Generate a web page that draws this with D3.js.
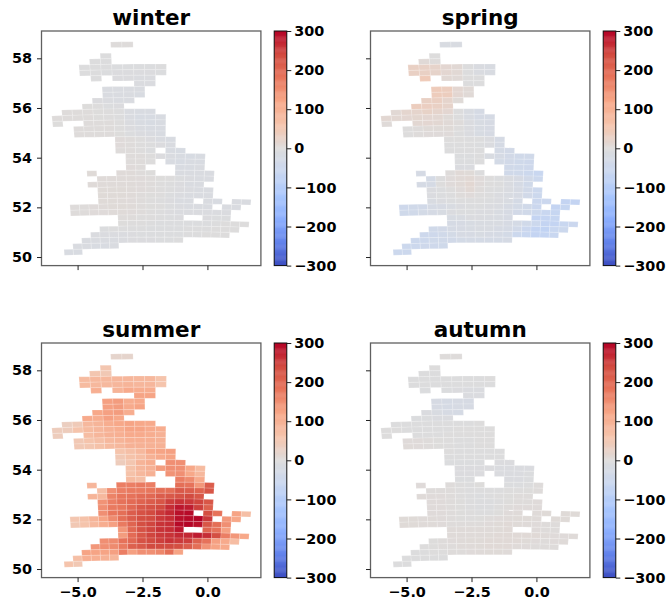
<!DOCTYPE html>
<html><head><meta charset="utf-8">
<script src="https://cdnjs.cloudflare.com/ajax/libs/d3/7.8.5/d3.min.js"></script>
<style>
html,body{margin:0;padding:0;background:#fff}
svg{display:block}
text{font-family:"DejaVu Sans",sans-serif;font-weight:700;fill:#000}
</style></head><body><svg id="c" width="670" height="601"></svg>
<script>
// Grid rows from north to south: runs of 25 km cell columns [first,last]
const rowRuns = [
[[12,13]],[],[[11,11]],[[10,11]],[[9,16]],[[9,16]],[[10,10],[12,15]],[[14,15]],[[11,14]],[[11,14]],
[[10,13]],[[9,12]],[[7,15]],[[6,16]],[[6,6],[9,16]],[[8,16]],[[8,16]],[[12,17]],[[12,17]],[[12,15],[17,18]],
[[13,20]],[[13,15],[17,20]],[[13,14],[18,20]],[[9,9],[12,15],[18,21]],[[10,21]],[[9,20]],[[10,21]],[[10,21]],
[[10,19],[21,22],[24,25]],[[7,21],[23,24]],[[7,23]],[[12,18],[21,23]],[[12,25]],[[10,24]],[[9,23]],[[8,18]],[[7,11]],[[6,7]]
];
const winter = [
[2,2],[],[-3],[-3,-3],[-2,-2,-4,-5,-6,-6,-6,-4],[-2,-2,-5,-7,-7,-7,-7,-5],[-3,-7,-7,-8,-8],[-9,-9],[-11,-11,-13,-13],[-11,-12,-13,-14],
[-7,-9,-11,-11],[1,-1,-5,-7],[2,2,3,1,0,-3,-11,-15,-15],[2,2,3,2,1,0,-3,-13,-17,-17,-15],[1,3,3,2,0,-9,-15,-17,-15],[3,3,3,2,0,-7,-13,-14,-14],[3,3,3,2,1,-5,-9,-12,-14],[4,3,-1,-7,-11,-15],[4,3,0,-3,-7,-13],[3,2,-1,-5,-15,-17],
[3,2,-1,-7,-11,-15,-17,-15],[3,2,-1,-14,-17,-16,-14],[4,3,-14,-15,-13],[6,5,5,3,1,-11,-13,-13,-11],[5,5,5,5,4,3,1,-1,-5,-9,-11,-11],[5,5,5,5,5,4,2,0,-3,-7,-11,-11],[6,6,6,5,4,2,0,-3,-7,-9,-11,-11],[6,6,6,5,3,1,-1,-5,-9,-11,-11,-13],
[6,6,5,4,2,0,-3,-7,-11,-13,-13,-15,-13,-13],[3,3,4,5,6,6,5,3,1,-1,-5,-9,-13,-13,-13,-13,-11],[3,3,4,4,5,5,4,3,0,-3,-7,-9,-9,-9,-9,-9,-9],[2,2,0,-1,-3,-5,-7,-7,-5,-5],[1,0,-1,-3,-5,-5,-5,-5,-5,-5,-3,-1,-1,0],[-5,-3,-2,-3,-4,-5,-5,-5,-5,-4,-3,-2,-1,0,0],[-9,-9,-9,-9,-7,-6,-5,-5,-5,-5,-3,-3,-1,0,0],[-13,-13,-13,-12,-9,-7,-7,-7,-6,-5,-4],[-13,-13,-14,-14,-13],[-15,-15]
];
const spring = [
[-14,-14],[],[0],[8,3],[30,28,22,14,10,-4,-12,-15],[30,30,22,14,10,-4,-12,-15],[45,10,8,0,-2],[-2,-4],[42,38,14,8],[40,38,14,8],
[30,32,20,6],[38,34,30,22],[10,18,20,26,20,14,-4,-14,-24],[12,12,14,16,14,12,6,-4,-14,-24,-24],[5,12,14,12,8,2,-8,-18,-22],[0,2,6,6,6,0,-8,-18,-22],[0,2,4,4,4,-2,-8,-18,-22],[0,0,-2,-4,-10,-24],[-2,-2,-3,-5,-10,-24],[-2,-2,-4,-4,-26,-34],
[-6,-5,-4,-14,-24,-34,-40,-40],[-6,-6,-4,-30,-36,-42,-44],[-8,-8,-38,-42,-46],[-25,2,8,6,-2,-38,-42,-50,-60],[-26,-4,4,8,10,4,0,-6,-12,-20,-35,-50],[-25,-24,0,4,8,12,4,0,-4,-12,-24,-40],[-10,-6,0,4,10,2,-2,-6,-12,-20,-35,-50],[-10,-6,-2,2,4,0,-4,-8,-14,-22,-35,-50],
[-15,-10,-5,-2,-2,-4,-6,-10,-16,-28,-55,-55,-70,-70],[-45,-40,-35,-25,-20,-15,-8,-6,-6,-8,-12,-20,-30,-38,-55,-70,-65],[-42,-38,-30,-25,-18,-10,-6,-6,-8,-10,-14,-22,-32,-40,-52,-60,-65],[-18,-14,-10,-10,-12,-14,-20,-70,-68,-65],[-25,-22,-18,-15,-14,-16,-20,-28,-40,-52,-70,-70,-60,-55],[-38,-32,-25,-22,-18,-16,-16,-20,-25,-35,-55,-70,-75,-60,-50],[-48,-45,-38,-30,-22,-20,-18,-20,-24,-30,-50,-60,-70,-68,-60],[-50,-48,-42,-40,-35,-30,-26,-26,-26,-26,-24],[-52,-50,-46,-44,-42],[-52,-52]
];
const summer = [
[20,20],[],[55],[55,50],[80,85,85,90,90,85,85,60],[80,85,85,90,95,90,90,60],[105,95,115,110,110],[125,125],[130,135,110,115],[130,135,115,125],
[120,130,135,110],[115,110,130,120],[35,45,85,95,110,120,125,120,115],[40,40,60,80,90,100,110,125,125,115,110],[40,75,90,100,105,115,115,110,100],[50,60,70,85,95,105,105,105,100],[50,55,65,80,85,100,100,100,100],[60,70,85,120,125,130],[50,65,75,100,115,125],[40,55,95,110,150,150],
[65,90,100,135,150,150,120,80],[65,85,100,145,150,120,85],[80,70,170,155,115],[90,170,170,175,170,190,185,140,215],[70,150,170,175,175,180,190,190,220,215,205,225],[95,85,165,180,185,195,200,215,220,230,240,225],[145,170,185,195,205,215,225,250,260,255,245,225],[150,175,180,200,220,230,240,265,285,280,250,210],
[150,180,190,215,230,240,255,270,290,295,235,185,125,70],[55,65,95,125,155,190,215,235,240,255,265,290,295,300,255,140,120],[50,60,85,110,130,175,205,235,245,260,265,295,300,290,225,190,150],[140,200,230,245,260,265,285,205,185,130],[135,195,225,245,255,260,270,270,280,265,235,170,140,120],[150,155,185,200,230,240,250,260,255,250,210,185,130,115,75],[140,150,155,175,210,220,240,240,240,235,215,190,145,125,115],[125,125,125,130,170,130,150,150,160,190,125],[70,105,105,100,90],[60,50]
];
const autumn = [
[3,3],[],[0],[-2,-2],[-4,-4,-4,-3,-2,-2,-2,-1],[-4,-4,-4,-4,-4,-4,-3,-2],[-5,-6,-7,-9,-8],[-10,-8],[-22,-24,-20,-20],[-22,-24,-22,-20],
[-10,-14,-20,-24],[-5,-6,-8,-10],[-2,-2,-4,-4,-4,-4,-3,-2,-1],[-1,-1,-2,-3,-3,-3,-2,-1,0,0,0],[0,-3,-2,-2,-1,0,0,0,0],[4,4,3,1,0,-2,-2,-1,-1],[5,4,3,1,0,-2,-2,-1,-1],[-1,-2,-3,-3,-3,-3],[-3,-3,-4,-4,-4,-4],[-6,-6,-6,-6,-7,-7],
[-7,-7,-7,-7,-8,-8,-8,-8],[-7,-7,-7,-8,-8,-8,-6],[-6,-6,-8,-8,-6],[4,2,0,-2,1,-6,-6,-2,3],[3,3,2,0,-4,-4,-4,-2,0,0,1,3],[5,4,4,3,0,-4,-5,-4,-1,1,2,3],[4,4,3,1,-2,-6,-6,-2,1,2,3,4],[4,4,3,1,-2,-5,-5,-1,2,4,4,4],
[4,4,3,1,-1,-3,-3,1,4,5,5,6,6,6],[6,6,5,5,4,2,1,0,1,2,4,5,6,6,5,6,6],[6,6,5,5,4,3,2,2,3,4,6,7,6,5,4,3,3],[5,5,5,5,5,6,7,4,3,3],[5,5,5,5,6,7,7,8,8,7,5,4,4,5],[1,2,4,5,6,6,7,7,8,7,6,4,3,4,5],[0,1,2,3,5,5,6,7,7,7,5,4,3,3,3],[-2,-2,0,0,2,3,4,5,6,6,5],[-2,-2,-2,-2,-2],[-2,-2]
];
const seasonNames = ["winter","spring","summer","autumn"];
const seasonValues = [winter,spring,summer,autumn];
const lonTicks = [-5,-2.5,0];
const latTicks = [50,52,54,56,58];
const cbarTicks = [-300,-200,-100,0,100,200,300];
const coolwarmStops = ["#3b4cc0","#6282ea","#8caffe","#aac7fd","#c9d7f0","#dddcdc","#f5c4ac","#f7a889","#e8765c","#d24b40","#b40426"];

const coolwarm = d3.scaleLinear().domain(d3.range(11).map(i=>-300+60*i)).range(coolwarmStops).interpolate(d3.interpolateRgb).clamp(true);

// 25 km projected grid -> lon/lat
const R=6371, LAT_TOP=58.67, DLAT=25/111.2, RAD=Math.PI/180;
function lonlat(col,row){
  const dE=col*25-400, fp=LAT_TOP-row*DLAT, t=fp*RAD;
  return [-2+dE/(R*Math.cos(t))/RAD, fp-dE*dE*Math.tan(t)/(2*R*R)/RAD];
}
const panels=[{l:41.5,t:31},{l:370.5,t:31},{l:41.5,t:343},{l:370.5,t:343}];
const W=219.4,H=234.6;
const svg=d3.select("#c");
const line=d3.line();
seasonNames.forEach((name,si)=>{
  const p=panels[si];
  const g=svg.append("g").attr("transform",`translate(${p.l},${p.t})`);
  const x=d3.scaleLinear().domain([-6.39,2.06]).range([0,W]);
  const y=d3.scaleLinear().domain([49.655,59.1]).range([H,0]);
  const cells=[];
  rowRuns.forEach((runs,r)=>{
    let k=0;
    runs.forEach(([a,b])=>{ for(let c=a;c<=b;c++) cells.push({c,r,v:seasonValues[si][r][k++]}); });
  });
  g.selectAll("path.cell").data(cells).join("path").attr("class","cell")
    .attr("d",d=>line([[d.c,d.r],[d.c+1,d.r],[d.c+1,d.r+1],[d.c,d.r+1]].map(q=>{const ll=lonlat(q[0],q[1]);return [x(ll[0]),y(ll[1])];}))+"Z")
    .attr("fill",d=>coolwarm(d.v)).attr("stroke","#fff").attr("stroke-opacity",.3).attr("stroke-width",.5);
  g.append("rect").attr("width",W).attr("height",H).attr("fill","none").attr("stroke","#606060").attr("stroke-width",1.3);
  const xa=d3.axisBottom(x).tickValues(lonTicks).tickSize(4.5).tickPadding(5).tickFormat(d=>si>=2?d3.format(".1f")(d).replace("-","\u2212"):"");
  const ya=d3.axisLeft(y).tickValues(latTicks).tickSize(4.5).tickPadding(5).tickFormat(d=>si%2==0?d:"");
  const gx=g.append("g").attr("transform",`translate(0,${H})`).call(xa);
  const gy=g.append("g").call(ya);
  [gx,gy].forEach(a=>{a.select(".domain").remove();a.selectAll("line").attr("stroke","#222").attr("stroke-width",1);
    a.selectAll("text").style("font-family",'"DejaVu Sans"').style("font-weight",700).style("font-size","14.4px").attr("fill","#000");});
  g.append("text").attr("x",W/2).attr("y",-6.5).attr("text-anchor","middle").style("font-size","21.5px").text(name);
  // colourbar
  const cbx=W+13.3, cbw=12.6;
  const cy=d3.scaleLinear().domain([-300,300]).range([H,0]);
  const cb=g.append("g").attr("transform",`translate(${cbx},0)`);
  const levels=d3.range(-300,300,600/256);
  cb.selectAll("rect.l").data(levels).join("rect").attr("class","l").attr("x",0).attr("width",cbw)
    .attr("y",d=>cy(d+600/256)).attr("height",d=>cy(d)-cy(d+600/256)+.4).attr("fill",d=>coolwarm(d+300/256));
  cb.append("rect").attr("width",cbw).attr("height",H).attr("fill","none").attr("stroke","#111").attr("stroke-width",1);
  const ca=d3.axisRight(cy).tickValues(cbarTicks).tickSize(4.5).tickPadding(3).tickFormat(d=>String(d).replace("-","\u2212"));
  const gc=cb.append("g").attr("transform",`translate(${cbw},0)`).call(ca);
  gc.select(".domain").remove();
  gc.selectAll("line").attr("stroke","#222").attr("stroke-width",1);
  gc.selectAll("text").style("font-family",'"DejaVu Sans"').style("font-weight",700).style("font-size","14.4px").attr("fill","#000");
});
</script></body></html>
